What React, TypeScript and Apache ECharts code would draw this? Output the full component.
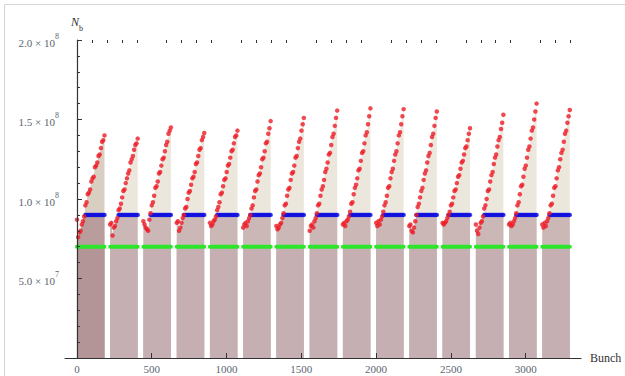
import React, { useEffect, useRef } from "react";
import * as echarts from "echarts";

// Bunch number at which each train starts
const trainStarts = [0, 222, 444, 667, 889, 1111, 1333, 1556, 1778, 2000, 2222, 2444, 2667, 2889, 3111];
// Bunch offsets of the sampled bunches inside a train
const bunchOffsets = [0, 8, 16, 24, 32, 40, 48, 56, 64, 72, 80, 88, 96, 104, 112, 120, 128, 136, 144, 152, 160, 168, 176, 184];

// Bunch intensity N_b in units of 1e8, one array per train
const train01 = [0.87, 0.76, 0.79, 0.80, 0.84, 0.86, 0.89, 0.96, 0.98, 1.03, 1.04, 1.06, 1.11, 1.13, 1.14, 1.20, 1.21, 1.23, 1.27, 1.28, 1.32, 1.36, 1.37, 1.40];
const train02 = [0.84, 0.85, 0.77, 0.82, 0.83, 0.86, 0.88, 0.93, 0.94, 0.97, 1.01, 1.05, 1.06, 1.10, 1.13, 1.16, 1.18, 1.23, 1.25, 1.27, 1.31, 1.34, 1.35, 1.38];
const train03 = [0.86, 0.84, 0.82, 0.81, 0.80, 0.87, 0.91, 0.96, 0.98, 1.02, 1.07, 1.08, 1.11, 1.16, 1.17, 1.21, 1.25, 1.26, 1.30, 1.34, 1.36, 1.41, 1.43, 1.45];
const train04 = [0.85, 0.86, 0.80, 0.82, 0.85, 0.88, 0.90, 0.94, 0.95, 1.00, 1.04, 1.05, 1.09, 1.13, 1.14, 1.17, 1.22, 1.23, 1.27, 1.31, 1.32, 1.37, 1.39, 1.415];
const train05 = [0.85, 0.83, 0.84, 0.86, 0.87, 0.89, 0.93, 0.95, 0.98, 1.03, 1.04, 1.08, 1.12, 1.13, 1.17, 1.21, 1.22, 1.26, 1.30, 1.31, 1.35, 1.39, 1.40, 1.43];
const train06 = [0.82, 0.84, 0.85, 0.83, 0.86, 0.88, 0.90, 0.94, 0.96, 1.01, 1.05, 1.06, 1.11, 1.15, 1.16, 1.20, 1.25, 1.26, 1.30, 1.35, 1.36, 1.41, 1.445, 1.49];
const train07 = [0.83, 0.81, 0.82, 0.84, 0.85, 0.88, 0.91, 0.96, 0.97, 1.02, 1.06, 1.07, 1.12, 1.16, 1.17, 1.21, 1.26, 1.27, 1.32, 1.36, 1.38, 1.43, 1.47, 1.51];
const train08 = [0.80, 0.83, 0.84, 0.82, 0.86, 0.88, 0.91, 0.96, 0.97, 1.02, 1.06, 1.08, 1.12, 1.17, 1.19, 1.23, 1.28, 1.29, 1.34, 1.39, 1.41, 1.46, 1.51, 1.556];
const train09 = [0.84, 0.85, 0.83, 0.86, 0.87, 0.89, 0.92, 0.97, 0.98, 1.03, 1.07, 1.09, 1.13, 1.18, 1.19, 1.24, 1.29, 1.30, 1.35, 1.40, 1.42, 1.47, 1.52, 1.57];
const train10 = [0.85, 0.83, 0.86, 0.84, 0.87, 0.89, 0.92, 0.96, 0.98, 1.02, 1.07, 1.08, 1.13, 1.17, 1.19, 1.24, 1.28, 1.30, 1.35, 1.40, 1.42, 1.47, 1.52, 1.565];
const train11 = [0.83, 0.84, 0.80, 0.79, 0.82, 0.86, 0.90, 0.95, 0.97, 1.01, 1.05, 1.07, 1.12, 1.16, 1.18, 1.23, 1.27, 1.29, 1.34, 1.39, 1.41, 1.46, 1.51, 1.55];
const train12 = [0.85, 0.84, 0.85, 0.86, 0.88, 0.90, 0.92, 0.96, 0.97, 1.01, 1.05, 1.06, 1.10, 1.14, 1.15, 1.19, 1.23, 1.24, 1.28, 1.32, 1.33, 1.37, 1.41, 1.445];
const train13 = [0.84, 0.80, 0.78, 0.82, 0.85, 0.86, 0.89, 0.94, 0.96, 1.00, 1.05, 1.06, 1.11, 1.15, 1.17, 1.22, 1.26, 1.28, 1.33, 1.37, 1.39, 1.44, 1.48, 1.53];
const train14 = [0.84, 0.85, 0.83, 0.84, 0.86, 0.88, 0.91, 0.96, 0.98, 1.03, 1.08, 1.09, 1.14, 1.19, 1.21, 1.26, 1.31, 1.33, 1.38, 1.43, 1.45, 1.50, 1.55, 1.60];
const train15 = [0.84, 0.82, 0.85, 0.83, 0.86, 0.88, 0.91, 0.96, 0.97, 1.02, 1.07, 1.08, 1.13, 1.18, 1.20, 1.25, 1.29, 1.31, 1.36, 1.41, 1.43, 1.48, 1.52, 1.56];
const trains = [train01, train02, train03, train04, train05, train06, train07, train08, train09, train10, train11, train12, train13, train14, train15];

// Reference levels (units of 1e8)
const blueLevel = 0.9;
const greenLevel = 0.7;

// Axis ticks
const xTickValues = [0, 500, 1000, 1500, 2000, 2500, 3000];
const xMinorTickValues = [100, 200, 300, 400, 600, 700, 800, 900, 1100, 1200, 1300, 1400, 1600, 1700, 1800, 1900, 2100, 2200, 2300, 2400, 2600, 2700, 2800, 2900, 3100, 3200, 3300];
const yTickValues = [0.5, 1.0, 1.5, 2.0];
const yTickMantissas = ["5.0", "1.0", "1.5", "2.0"];
const yTickExponents = ["7", "8", "8", "8"];

const FONT = "'Liberation Serif', 'Times New Roman', 'DejaVu Serif', serif";

export default function App() {
  const ref = useRef<HTMLDivElement>(null);

  useEffect(() => {
    if (!ref.current) return;
    const chart = echarts.init(ref.current, null, { renderer: "svg" });

    const series: any[] = [];
    const redPoints: number[][] = [];
    const bluePoints: number[][] = [];

    trains.forEach((vals, i) => {
      const xs = bunchOffsets.map((o) => trainStarts[i] + o);
      const dark = i === 0;
      const red = xs.map((x, k) => [x, vals[k]]);
      const blueFill = xs.map((x, k) => [x, Math.min(vals[k], blueLevel)]);
      const green = xs.map((x) => [x, greenLevel]);
      red.forEach((p) => redPoints.push(p));
      xs.forEach((x, k) => {
        if (vals[k] >= blueLevel) bluePoints.push([x, blueLevel]);
      });
      series.push({
        type: "line", data: red, symbol: "none", silent: true, z: 1,
        lineStyle: { width: 0, opacity: 0 },
        areaStyle: { color: dark ? "#d9cec2" : "#ece7dc", opacity: 1 },
      });
      series.push({
        type: "line", data: blueFill, symbol: "none", silent: true, z: 1,
        lineStyle: { width: 0, opacity: 0 },
        areaStyle: { color: dark ? "#b99d9c" : "#cab7b6", opacity: 1 },
      });
      series.push({
        type: "line", data: green, symbol: "none", silent: true, z: 1,
        lineStyle: { width: 0, opacity: 0 },
        areaStyle: { color: dark ? "#b39597" : "#c5afb3", opacity: 1 },
      });
      series.push({
        type: "line", data: green, symbol: "none", silent: true, z: 3,
        lineStyle: { width: 4, color: "#2ce62c", cap: "round" },
      });
    });

    series.push({
      type: "scatter", data: bluePoints, symbol: "circle", symbolSize: 4.5, silent: true, z: 4,
      itemStyle: { color: "#1212e0" },
    });
    series.push({
      type: "scatter", data: redPoints, symbol: "circle", symbolSize: 4.5, silent: true, z: 5,
      itemStyle: { color: "#ec1c26" },
    });

    const labelStyle = { color: "#5b6570", fontFamily: FONT, fontSize: 11 };

    chart.setOption({
      animation: false,
      backgroundColor: "#ffffff",
      grid: { left: 65, right: 44, top: 40, bottom: 18, containLabel: false },
      graphic: [
        {
          type: "rect",
          shape: { x: 4.5, y: 4.5, width: 700, height: 500 },
          style: { fill: "none", stroke: "#d6d6d6", lineWidth: 1 },
          silent: true,
        },
      ],
      xAxis: [
        {
          type: "value", min: -80, max: 3370, z: 10,
          name: "Bunch", nameLocation: "end", nameGap: 9,
          nameTextStyle: { color: "#333", fontFamily: FONT, fontSize: 12, align: "left", verticalAlign: "middle" },
          axisLine: { show: true, onZero: true, lineStyle: { color: "#333", width: 1.2 } },
          axisTick: { show: true, inside: true, length: 5, customValues: xTickValues, lineStyle: { color: "#333" } },
          axisLabel: { ...labelStyle, margin: 5, customValues: xTickValues, formatter: (v: number) => String(v) },
          splitLine: { show: false },
        },
        {
          type: "value", min: -80, max: 3370, z: 10,
          axisLine: { show: false },
          axisTick: { show: true, inside: true, length: 3, customValues: xMinorTickValues, lineStyle: { color: "#333" } },
          axisLabel: { show: false },
          splitLine: { show: false },
        },
      ],
      yAxis: {
        type: "value", min: 0, max: 2.0, interval: 0.5, z: 10,
        name: "{n|N}{s|b}", nameLocation: "end", nameGap: 8,
        nameTextStyle: {
          rich: {
            n: { fontFamily: FONT, fontStyle: "italic", fontSize: 12, color: "#333", lineHeight: 16, verticalAlign: "top" },
            s: { fontFamily: FONT, fontSize: 8, color: "#333", lineHeight: 16, verticalAlign: "bottom" },
          },
        },
        axisLine: { show: true, onZero: true, lineStyle: { color: "#333", width: 1.2 } },
        axisTick: { show: true, inside: true, length: 5, lineStyle: { color: "#333" } },
        minorTick: { show: true, splitNumber: 5, length: 3, lineStyle: { color: "#333" } },
        axisLabel: {
          margin: 6,
          customValues: yTickValues,
          formatter: (v: number) => {
            const k = yTickValues.findIndex((t) => Math.abs(t - v) < 1e-9);
            if (k < 0) return "";
            return `{m|${yTickMantissas[k]} × 10}{e|${yTickExponents[k]}}`;
          },
          rich: {
            m: { ...labelStyle, lineHeight: 16, verticalAlign: "bottom" },
            e: { ...labelStyle, fontSize: 8, lineHeight: 16, verticalAlign: "top" },
          },
        },
        splitLine: { show: false },
      },
      series,
    });

    return () => chart.dispose();
  }, []);

  return (
    <div
      ref={ref}
      style={{ position: "fixed", left: 0, top: 0, width: 625, height: 376, background: "#fff" }}
    />
  );
}
